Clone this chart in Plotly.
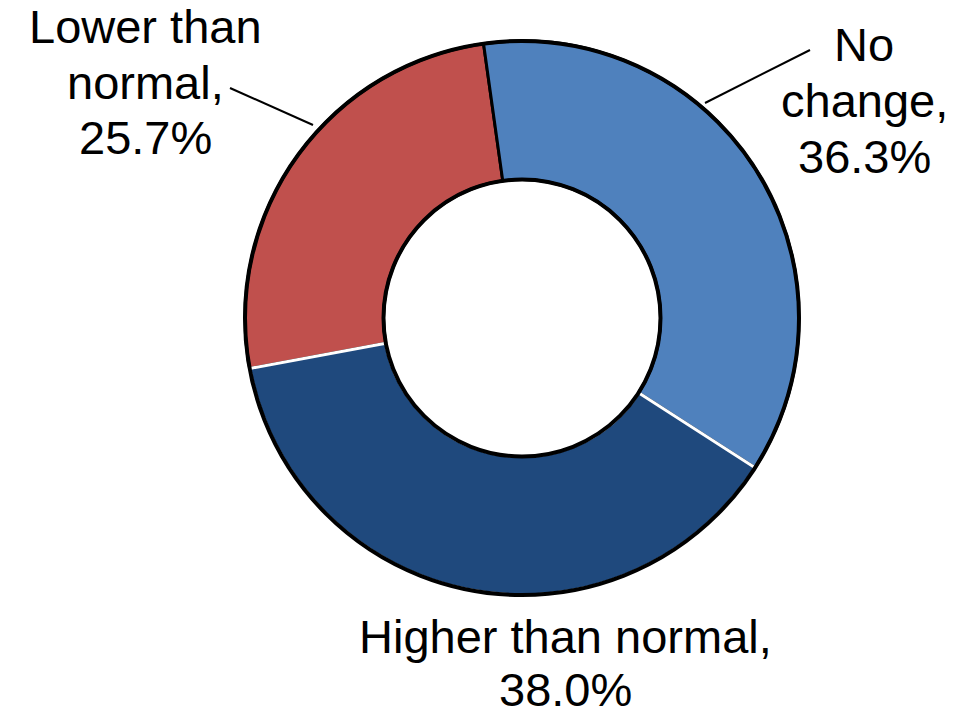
import plotly.graph_objects as go

# Data (clockwise order starting at the "Lower than normal" slice)
categories = ["Lower than normal", "No change", "Higher than normal"]
values = [25.7, 36.3, 38.0]
colors = ["#C0504D", "#4F81BD", "#1F497D"]
label_lines = [["Lower than", "normal,", "25.7%"],
               ["No", "change,", "36.3%"],
               ["Higher than normal,", "38.0%"]]

W, H = 972, 712
cx, cy, R = 522, 318, 277  # pixel geometry of the donut


def px(x):
    return x / W


def py(y):
    return 1 - y / H


domain = dict(x=[px(cx - R), px(cx + R)], y=[py(cy + R), py(cy - R)])

fig = go.Figure()
fig.add_trace(go.Pie(
    labels=categories, values=values, sort=False, direction="clockwise",
    rotation=259.5, hole=0.5, domain=domain,
    marker=dict(colors=colors, line=dict(color=["black", "black", "white"], width=3)),
    textinfo="none", hoverinfo="label+percent", showlegend=False,
))
# outer/inner black ring
fig.add_trace(go.Pie(
    labels=["ring"], values=[1], hole=0.5, domain=domain, sort=False,
    marker=dict(colors=["rgba(0,0,0,0)"], line=dict(color="black", width=4)),
    textinfo="none", hoverinfo="skip", showlegend=False,
))

font = dict(family="Liberation Sans, Arial, sans-serif", size=47, color="black")
label_top = [(145, 26), (864, 44), (565, 636)]  # centre of first line
line_step = [56, 56, 53]
for lines, (x, y), step in zip(label_lines, label_top, line_step):
    for i, t in enumerate(lines):
        fig.add_annotation(x=px(x), y=py(y + i * step), xref="paper", yref="paper",
                           text=t, showarrow=False, font=font, align="center",
                           xanchor="center", yanchor="middle")

leaders = [((230, 88), (313, 125)), ((810, 50), (705, 103))]
for (x0, y0), (x1, y1) in leaders:
    fig.add_shape(type="line", xref="paper", yref="paper",
                  x0=px(x0), y0=py(y0), x1=px(x1), y1=py(y1),
                  line=dict(color="black", width=2))

fig.update_layout(width=W, height=H, margin=dict(l=0, r=0, t=0, b=0),
                  paper_bgcolor="white", plot_bgcolor="white")
fig.write_html("out.html")
